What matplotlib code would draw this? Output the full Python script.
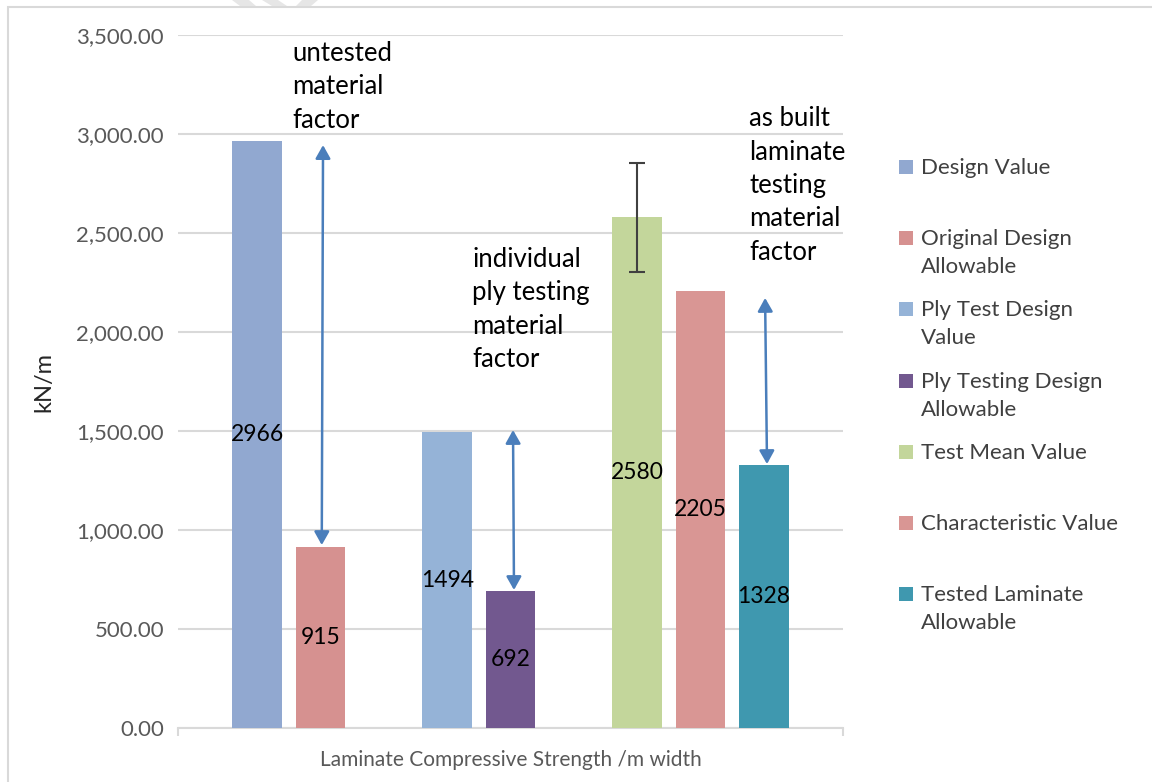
import matplotlib
matplotlib.use("Agg")
import matplotlib.pyplot as plt
from matplotlib.patches import Rectangle, Polygon

plt.rcParams['font.family'] = ['Lato', 'DejaVu Sans']

# Series data (one category, seven series; two slots left empty)
series = ["Design Value", "Original Design\nAllowable", "Ply Test Design\nValue",
          "Ply Testing Design\nAllowable", "Test Mean Value", "Characteristic Value",
          "Tested Laminate\nAllowable"]
values = [2966, 915, 1494, 692, 2580, 2205, 1328]
slots = [-4, -3, -1, 0, 2, 3, 4]
colors = ["#91A8D0", "#D69190", "#95B3D7", "#72588F", "#C3D69B", "#D99694", "#3F98AF"]
test_mean_err = 275
yticks = [0, 500, 1000, 1500, 2000, 2500, 3000, 3500]
category = "Laminate Compressive Strength /m width"

W, H = 1152, 782
fig = plt.figure(figsize=(W / 100, H / 100), dpi=100)
fig.patch.set_facecolor("white")

# outer chart border
fig.add_artist(Rectangle((8 / W, -0.05), 1.2, 1 - 7 / H + 0.05, transform=fig.transFigure,
                         fill=False, edgecolor="#D9D9D9", lw=1.5))
# faint stripes above the border
for pts in ([(232, 0), (249, 0), (256, 6), (240, 6)],
            [(262, 0), (278, 0), (287, 6), (272, 6)],
            [(302, 0), (318, 0), (311, 6), (296, 6)]):
    fig.add_artist(Polygon([(x / W, 1 - y / H) for x, y in pts], closed=True,
                           transform=fig.transFigure, facecolor="#E6E6E6", edgecolor="none"))

L, R, T, B = 178, 843, 35, 728
ax = fig.add_axes([L / W, 1 - B / H, (R - L) / W, (B - T) / H])
ax.set_xlim(-5.25, 5.25)
ax.set_ylim(0, 3500)

bar_w = 0.78
bars = ax.bar(slots, values, width=bar_w, color=colors, zorder=3)
ax.errorbar([slots[4]], [values[4]], yerr=test_mean_err, fmt="none",
            ecolor="#404040", elinewidth=1.5, capsize=6, capthick=1.5, zorder=4)

for x, v in zip(slots, values):
    ax.text(x, v / 2, f"{v}", ha="center", va="center", fontsize=16.5, color="black", zorder=5)

# grid and axes styling
ax.set_yticks(yticks)
ax.set_yticklabels([f"{t:,.2f}" for t in yticks], fontsize=16, color="#595959")
ax.yaxis.grid(True, color="#D9D9D9", lw=1.5, zorder=0)
ax.tick_params(axis="y", length=0, pad=10)
for s in ("top", "right", "left"):
    ax.spines[s].set_visible(False)
ax.spines["bottom"].set_color("#D9D9D9")
ax.spines["bottom"].set_linewidth(1.5)
ax.set_xticks([-5.25, 5.25])
ax.set_xticklabels(["", ""])
ax.tick_params(axis="x", length=6, width=1.5, color="#D9D9D9", direction="out")
ax.set_ylabel("kN/m", fontsize=17, color="#262626", labelpad=16)
ax.set_xlabel(category, fontsize=15, color="#595959", labelpad=6)

# material factor arrows
arrow_style = dict(arrowstyle="<|-|>,head_length=0.8,head_width=0.45",
                   color="#4A7EBB", lw=1.8, shrinkA=0, shrinkB=0)
arrows = [((-2.96, values[0] - 22), (-2.98, values[1] + 9)),
          ((0.04, values[2] + 11), (0.055, values[3] + 5)),
          ((4.02, values[5] - 33), (4.05, values[6] + 5))]
for top, bot in arrows:
    ax.annotate("", xy=bot, xytext=top, arrowprops=arrow_style, zorder=6)

notes = [(-3.45, 3470, "untested\nmaterial\nfactor"),
         (-0.6, 2430, "individual\nply testing\nmaterial\nfactor"),
         (3.77, 3140, "as built\nlaminate\ntesting\nmaterial\nfactor")]
for x, y, s in notes:
    ax.text(x, y, s, ha="left", va="top", fontsize=18.5, color="black",
            linespacing=1.42, zorder=6)

# legend, one evenly spaced slot per series
for i, (name, c) in enumerate(zip(series, colors)):
    yc = 167 + 71.2 * i
    fig.add_artist(Rectangle((899 / W, 1 - (yc + 7) / H), 14 / W, 14 / H,
                             transform=fig.transFigure, facecolor=c, edgecolor="none"))
    fig.text(921 / W, 1 - (yc - 9) / H, name, ha="left", va="top", fontsize=16,
             color="#404040", linespacing=1.5, transform=fig.transFigure)

fig.savefig("out.png", dpi=100)
